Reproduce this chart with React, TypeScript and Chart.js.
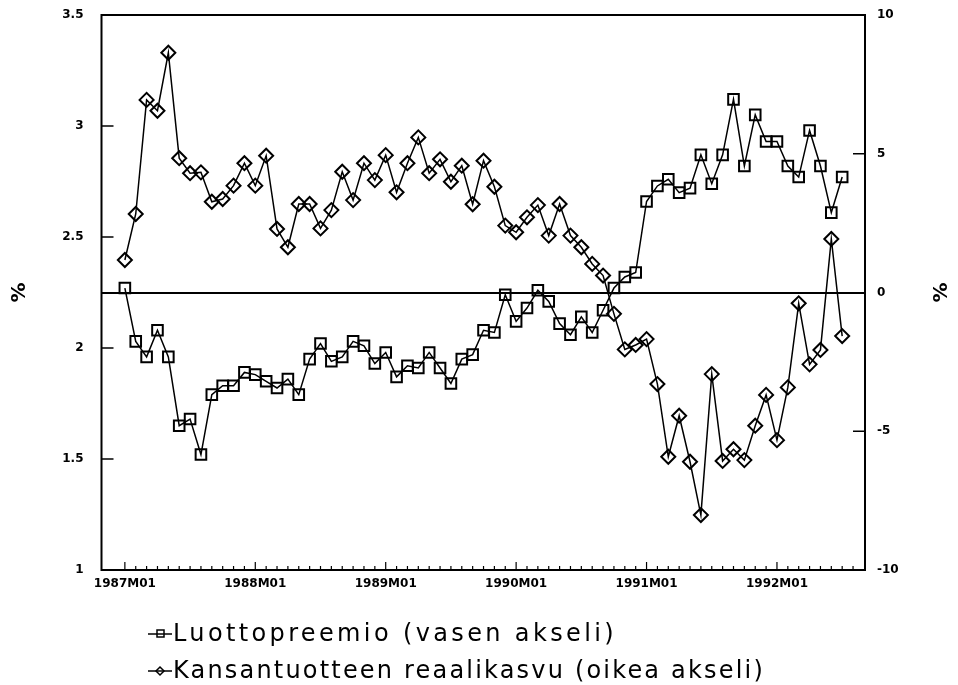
import React, { useEffect, useRef } from 'react';
import { Chart, registerables } from 'chart.js';

Chart.register(...registerables);

// Monthly periods 1987M01 .. 1992M07
const START_YEAR = 1987;
const periods: string[] = Array.from({ length: 67 }, (_, i) =>
  `${START_YEAR + Math.floor(i / 12)}M${String((i % 12) + 1).padStart(2, '0')}`
);

const yearTickLabels = ['1987M01', '1988M01', '1989M01', '1990M01', '1991M01', '1992M01'];
const yearTickIndex = [0, 12, 24, 36, 48, 60];

// Luottopreemio (left axis, %)
const creditPremium = [
  2.27, 2.03, 1.96, 2.08, 1.96, 1.65, 1.68, 1.52, 1.79, 1.83, 1.83, 1.89,
  1.88, 1.85, 1.82, 1.86, 1.79, 1.95, 2.02, 1.94, 1.96, 2.03, 2.01, 1.93,
  1.98, 1.87, 1.92, 1.91, 1.98, 1.91, 1.84, 1.95, 1.97, 2.08, 2.07, 2.24,
  2.12, 2.18, 2.26, 2.21, 2.11, 2.06, 2.14, 2.07, 2.17, 2.27, 2.32, 2.34,
  2.66, 2.73, 2.76, 2.70, 2.72, 2.87, 2.74, 2.87, 3.12, 2.82, 3.05, 2.93,
  2.93, 2.82, 2.77, 2.98, 2.82, 2.61, 2.77,
];

// Kansantuotteen reaalikasvu (right axis, %)
const gdpGrowth = [
  1.17, 2.83, 6.94, 6.55, 8.64, 4.84, 4.30, 4.33, 3.27, 3.37, 3.85, 4.66,
  3.85, 4.93, 2.29, 1.63, 3.19, 3.19, 2.31, 2.97, 4.35, 3.33, 4.66, 4.05,
  4.95, 3.61, 4.66, 5.59, 4.30, 4.80, 3.99, 4.57, 3.18, 4.75, 3.81, 2.41,
  2.17, 2.71, 3.15, 2.05, 3.19, 2.05, 1.63, 1.03, 0.61, -0.77, -2.05, -1.89,
  -1.68, -3.30, -5.92, -4.44, -6.10, -8.02, -2.94, -6.07, -5.65, -6.04, -4.80, -3.69,
  -5.32, -3.42, -0.39, -2.59, -2.07, 1.93, -1.57,
];

const leftInnerTicks = [1.5, 2, 2.5, 3];
const rightInnerTicks = [-5, 5];

const legendItems = [
  { text: 'Luottopreemio (vasen akseli)', marker: 'square', width: 444 },
  { text: 'Kansantuotteen reaalikasvu (oikea akseli)', marker: 'diamond', width: 592 },
];

const decorPlugin = {
  id: 'decor',
  afterDraw(chart: any) {
    const { ctx, chartArea: a, scales } = chart;
    ctx.save();
    ctx.strokeStyle = '#000';
    ctx.fillStyle = '#000';
    const line = (x1: number, y1: number, x2: number, y2: number) => {
      ctx.beginPath();
      ctx.moveTo(x1, y1);
      ctx.lineTo(x2, y2);
      ctx.stroke();
    };
    // frame
    ctx.lineWidth = 2;
    ctx.strokeRect(a.left, a.top, a.right - a.left, a.bottom - a.top);
    // inner ticks
    ctx.lineWidth = 1.5;
    leftInnerTicks.forEach((v) => {
      const y = scales.y.getPixelForValue(v);
      line(a.left, y, a.left + 12, y);
    });
    rightInnerTicks.forEach((v) => {
      const y = scales.y1.getPixelForValue(v);
      line(a.right - 12, y, a.right, y);
    });
    ctx.lineWidth = 1.2;
    for (let i = 0; i <= periods.length; i++) {
      const x = scales.x.getPixelForValue(i);
      const len = i % 12 === 0 ? 8 : 4;
      line(x, a.bottom, x, a.bottom - len);
    }
    // % labels
    const midY = scales.y1.getPixelForValue(0);
    ctx.font = 'bold 20px "DejaVu Sans"';
    ctx.textAlign = 'center';
    ctx.textBaseline = 'middle';
    [20, 942].forEach((x) => {
      ctx.save();
      ctx.translate(x, midY);
      ctx.rotate(-Math.PI / 2);
      ctx.fillText('%', 0, 0);
      ctx.restore();
    });
    // legend
    const baseY = [641, 678];
    legendItems.forEach((item, k) => {
      const ly = baseY[k] - 7;
      ctx.lineWidth = 1.5;
      line(148, ly, 172, ly);
      if (item.marker === 'square') {
        ctx.strokeRect(157, ly - 4, 7, 7);
      } else {
        ctx.beginPath();
        ctx.moveTo(160, ly - 4);
        ctx.lineTo(164, ly);
        ctx.lineTo(160, ly + 4);
        ctx.lineTo(156, ly);
        ctx.closePath();
        ctx.stroke();
      }
      ctx.font = '24px "DejaVu Sans"';
      ctx.textAlign = 'left';
      ctx.textBaseline = 'alphabetic';
      (ctx as any).letterSpacing = '0px';
      const w = ctx.measureText(item.text).width;
      const sp = (item.width - w) / item.text.length;
      (ctx as any).letterSpacing = `${sp}px`;
      ctx.fillText(item.text, 173, baseY[k]);
      (ctx as any).letterSpacing = '0px';
    });
    ctx.restore();
  },
};

export default function App() {
  const ref = useRef<HTMLCanvasElement>(null);

  useEffect(() => {
    if (!ref.current) return;
    const tickFont = { family: '"DejaVu Sans"', size: 12, weight: 'bold' as const };
    const chart = new Chart(ref.current, {
      type: 'line',
      data: {
        datasets: [
          {
            label: 'Luottopreemio (vasen akseli)',
            data: creditPremium.map((v, i) => ({ x: i, y: v })),
            yAxisID: 'y',
            borderColor: '#000',
            borderWidth: 1.5,
            pointStyle: 'rect',
            pointRadius: 7.5,
            pointBorderWidth: 2,
            pointBorderColor: '#000',
            pointBackgroundColor: 'rgba(0,0,0,0)',
            tension: 0,
          },
          {
            label: 'Kansantuotteen reaalikasvu (oikea akseli)',
            data: gdpGrowth.map((v, i) => ({ x: i, y: v })),
            yAxisID: 'y1',
            borderColor: '#000',
            borderWidth: 1.5,
            pointStyle: 'rectRot',
            pointRadius: 7,
            pointBorderWidth: 2,
            pointBorderColor: '#000',
            pointBackgroundColor: 'rgba(0,0,0,0)',
            tension: 0,
          },
        ],
      },
      options: {
        animation: false,
        responsive: false,
        layout: { padding: { top: 15, bottom: 85, left: 0, right: 0 } },
        plugins: { legend: { display: false }, tooltip: { enabled: false } },
        scales: {
          x: {
            type: 'linear',
            min: -2.15,
            max: 68.1,
            grid: { display: false, drawTicks: false },
            border: { display: false },
            afterBuildTicks: (s: any) => {
              s.ticks = yearTickIndex.map((v) => ({ value: v }));
            },
            ticks: {
              autoSkip: false,
              maxRotation: 0,
              minRotation: 0,
              padding: 7,
              color: '#000',
              font: tickFont,
              callback: (_v: any, i: number) => yearTickLabels[i],
            },
            afterFit: (s: any) => {
              s.height = 30;
              s.paddingLeft = 0;
              s.paddingRight = 0;
            },
          },
          y: {
            type: 'linear',
            position: 'left',
            min: 1,
            max: 3.5,
            grid: { display: false, drawTicks: false },
            border: { display: false },
            ticks: {
              stepSize: 0.5,
              padding: 18,
              color: '#000',
              font: tickFont,
              callback: (v: any) => String(Number(v)),
            },
            afterFit: (s: any) => {
              s.width = 101.5;
              s.paddingTop = 0;
              s.paddingBottom = 0;
            },
          },
          y1: {
            type: 'linear',
            position: 'right',
            min: -10,
            max: 10,
            grid: {
              drawTicks: false,
              color: (c: any) => (c.tick && c.tick.value === 0 ? '#000' : 'rgba(0,0,0,0)'),
              lineWidth: 2,
            },
            border: { display: false },
            ticks: {
              stepSize: 5,
              padding: 12,
              color: '#000',
              font: tickFont,
              callback: (v: any) => String(Number(v)),
            },
            afterFit: (s: any) => {
              s.width = 93;
              s.paddingTop = 0;
              s.paddingBottom = 0;
            },
          },
        },
      },
      plugins: [decorPlugin],
    });
    return () => chart.destroy();
  }, []);

  return (
    <div style={{ position: 'fixed', left: 0, top: 0, width: 958, height: 685, background: '#fff' }}>
      <canvas ref={ref} width={958} height={685} style={{ display: 'block' }} />
    </div>
  );
}
